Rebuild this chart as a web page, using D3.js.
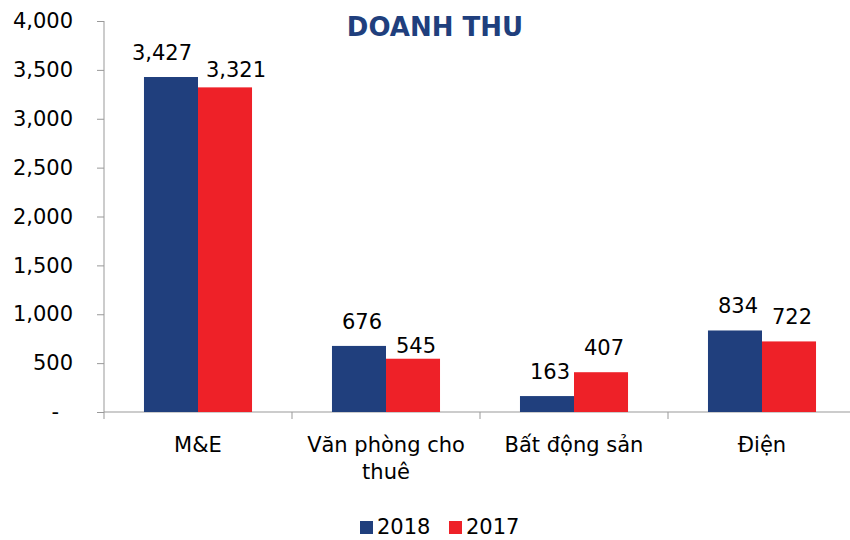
<!DOCTYPE html>
<html>
<head>
  <meta charset="utf-8">
  <title>Doanh thu</title>
  <script src="https://d3js.org/d3.v7.min.js"></script>
  <style>
    body { margin: 0; background: #fff; }
    text { font-family: "DejaVu Sans", Verdana, sans-serif; fill: #000; }
  </style>
</head>
<body>
<svg id="chart"></svg>
<script>
const width = 850;
const height = 540;

// data
const categories = ['M&E', 'Văn phòng cho thuê', 'Bất động sản', 'Điện'];
const seriesNames = ['2018', '2017'];
const values2018 = [3427, 676, 163, 834];
const values2017 = [3321, 545, 407, 722];
const yTicks = [0, 500, 1000, 1500, 2000, 2500, 3000, 3500, 4000];

const colors = { '2018': '#203F7D', '2017': '#EE2128' };
const fontSize = '21px';

// small manual nudges for a few labels (like the hand-moved labels in the original)
const labelNudge = {
  '0-2018': [-12, 0], '0-2017': [8, 7], '1-2017': [0, 11]
};

const rows = categories.map((c, i) => ({ cat: c, i: i, '2018': values2018[i], '2017': values2017[i] }));

const svg = d3.select('#chart')
  .attr('width', width)
  .attr('height', height);

const mLeft = 104, mRight = 856, mTop = 21, mBottom = 412;

const x0 = d3.scaleBand()
  .domain(categories)
  .range([mLeft, mRight])
  .padding(0);

const x1 = d3.scaleBand()
  .domain(seriesNames)
  .range([0, x0.bandwidth()])
  .paddingInner(0)
  .paddingOuter(0.74);

const y = d3.scaleLinear()
  .domain([0, 4000])
  .range([mBottom, mTop]);

// y axis
const yAxis = svg.append('g')
  .attr('transform', `translate(${mLeft},0)`)
  .call(d3.axisLeft(y)
    .tickValues(yTicks)
    .tickSize(7)
    .tickPadding(24)
    .tickFormat(d => d === 0 ? '-' : d3.format(',')(d)));
yAxis.selectAll('text').style('font-size', fontSize)
  .attr('dx', d => d === 0 ? -14 : 0);
yAxis.selectAll('line').attr('stroke', '#999');
yAxis.select('.domain').attr('stroke', '#999').attr('d', `M0,${mTop}V${mBottom}`);

// x axis line and group ticks
const xg = svg.append('g');
xg.append('line')
  .attr('x1', mLeft).attr('x2', width)
  .attr('y1', mBottom).attr('y2', mBottom)
  .attr('stroke', '#999');
xg.selectAll('.gt')
  .data(categories.concat(['end']))
  .enter()
  .append('line')
  .attr('x1', (d, i) => mLeft + i * x0.step())
  .attr('x2', (d, i) => mLeft + i * x0.step())
  .attr('y1', mBottom).attr('y2', mBottom + 7)
  .attr('stroke', '#999');

// bars
const groups = svg.selectAll('.grp')
  .data(rows)
  .enter()
  .append('g')
  .attr('transform', d => `translate(${x0(d.cat)},0)`);

groups.selectAll('rect')
  .data(d => seriesNames.map(s => ({ s: s, v: d[s], i: d.i })))
  .enter()
  .append('rect')
  .attr('x', d => x1(d.s))
  .attr('y', d => y(d.v))
  .attr('width', x1.bandwidth())
  .attr('height', d => y(0) - y(d.v))
  .attr('fill', d => colors[d.s]);

// value labels
groups.selectAll('.lbl')
  .data(d => seriesNames.map(s => ({ s: s, v: d[s], i: d.i })))
  .enter()
  .append('text')
  .attr('text-anchor', 'middle')
  .style('font-size', fontSize)
  .attr('x', d => x1(d.s) + x1.bandwidth() / 2 + 3 + (labelNudge[d.i + '-' + d.s] || [0, 0])[0])
  .attr('y', d => y(d.v) - 17 + (labelNudge[d.i + '-' + d.s] || [0, 0])[1])
  .text(d => d3.format(',')(d.v));

// category labels, wrapped
svg.selectAll('.cat')
  .data(categories)
  .enter()
  .append('text')
  .attr('text-anchor', 'middle')
  .style('font-size', fontSize)
  .each(function(d) {
    const t = d3.select(this);
    const cx = x0(d) + x0.bandwidth() / 2;
    const words = d.split(' ');
    let line = [];
    let lineNo = 0;
    let tspan = t.append('tspan').attr('x', cx).attr('y', 452);
    words.forEach(w => {
      line.push(w);
      tspan.text(line.join(' '));
      if (tspan.node().getComputedTextLength() > 180 && line.length > 1) {
        line.pop();
        tspan.text(line.join(' '));
        line = [w];
        lineNo++;
        tspan = t.append('tspan').attr('x', cx).attr('y', 452 + lineNo * 27).text(w);
      }
    });
  });

// title
svg.append('text')
  .attr('x', 435)
  .attr('y', 36)
  .attr('text-anchor', 'middle')
  .style('font-size', '26px')
  .style('font-weight', 'bold')
  .style('fill', '#203F7D')
  .text('DOANH THU');

// legend
const legend = svg.append('g');
const legendX = [360, 449];
seriesNames.forEach((s, i) => {
  legend.append('rect')
    .attr('x', legendX[i]).attr('y', 521)
    .attr('width', 13).attr('height', 13)
    .attr('fill', colors[s]);
  legend.append('text')
    .attr('x', legendX[i] + 17).attr('y', 534)
    .style('font-size', fontSize)
    .text(s);
});
</script>
</body>
</html>
